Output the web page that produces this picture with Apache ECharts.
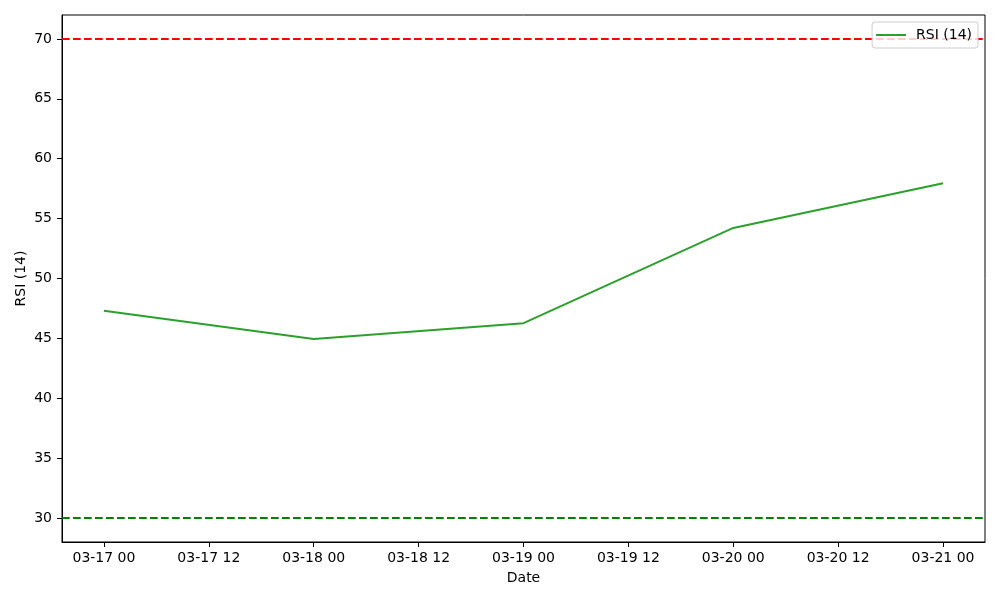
<!DOCTYPE html>
<html>
<head>
<meta charset="utf-8">
<script src="https://cdn.jsdelivr.net/npm/echarts@6/dist/echarts.min.js"></script>
<style>
  html, body { margin: 0; padding: 0; background: #fff; }
  #chart { width: 1000px; height: 600px; }
</style>
</head>
<body>
<div id="chart"></div>
<script>
// daily RSI readings (March)
const dates = ['03-17', '03-18', '03-19', '03-20', '03-21']
const rsiValues = [47.3, 44.95, 46.27, 54.22, 57.95]
const overbought = 70
const oversold = 30
const yTicks = [30, 35, 40, 45, 50, 55, 60, 65, 70]
const xTickLabels = ['03-17 00', '03-17 12', '03-18 00', '03-18 12', '03-19 00', '03-19 12', '03-20 00', '03-20 12', '03-21 00']

// x axis runs in hours from the first date
const HOUR = 3600 * 1000
const year = 2024
function toTime(md) {
  const [m, d] = md.split('-').map(Number)
  return Date.UTC(year, m - 1, d)
}
const t0 = toTime(dates[0])
const toHours = (md) => (toTime(md) - t0) / HOUR
const spanH = toHours(dates[dates.length - 1])
const xTicks = xTickLabels.map((_, i) => i * 12)
const labelOf = (v) => {
  const i = xTicks.indexOf(Math.round(v))
  return i >= 0 ? xTickLabels[i] : ''
}

const font = 'DejaVu Sans'
const fs = 14
const chart = echarts.init(document.getElementById('chart'), null, { renderer: 'canvas' })

const option = {
  animation: false,
  backgroundColor: '#fff',
  textStyle: { fontFamily: font },
  grid: {
    left: 62,
    right: 15,
    top: 15,
    bottom: 58,
    show: true,
    borderColor: '#000',
    borderWidth: 1,
    backgroundColor: 'transparent',
  },
  legend: {
    data: ['RSI (14)'],
    right: 22,
    top: 22,
    z: 10,
    padding: [6, 6, 6, 4],
    icon: 'rect',
    itemWidth: 30,
    itemHeight: 2,
    itemGap: 10,
    backgroundColor: 'rgba(255,255,255,0.8)',
    borderColor: '#cccccc',
    borderWidth: 1,
    borderRadius: 3,
    textStyle: { fontFamily: font, fontSize: fs, color: '#000', padding: [0, 0, 0, 5] },
  },
  xAxis: {
    type: 'value',
    min: -0.05 * spanH,
    max: spanH * 1.05,
    name: 'Date',
    nameLocation: 'middle',
    nameGap: 29,
    nameMoveOverlap: false,
    nameTextStyle: { fontFamily: font, fontSize: fs, color: '#000' },
    splitLine: { show: false },
    axisLine: { show: true, onZero: false, lineStyle: { color: '#000', width: 1 } },
    axisTick: {
      show: true,
      inside: false,
      length: 5,
      customValues: xTicks,
      lineStyle: { color: '#000', width: 1 },
    },
    axisLabel: {
      customValues: xTicks,
      formatter: labelOf,
      color: '#000',
      fontFamily: font,
      fontSize: fs,
      margin: 9,
      hideOverlap: false,
    },
  },
  yAxis: {
    type: 'value',
    min: 28,
    max: 72,
    name: 'RSI (14)',
    nameLocation: 'middle',
    nameGap: 34,
    nameMoveOverlap: false,
    nameTextStyle: { fontFamily: font, fontSize: fs, color: '#000' },
    splitLine: { show: false },
    axisLine: { show: true, onZero: false, lineStyle: { color: '#000', width: 1 } },
    axisTick: {
      show: true,
      inside: false,
      length: 5,
      customValues: yTicks,
      lineStyle: { color: '#000', width: 1 },
    },
    axisLabel: {
      customValues: yTicks,
      color: '#000',
      fontFamily: font,
      fontSize: fs,
      margin: 10,
    },
  },
  series: [
    {
      name: 'RSI (14)',
      type: 'line',
      data: dates.map((d, i) => [toHours(d), rsiValues[i]]),
      showSymbol: false,
      symbol: 'none',
      color: '#2ca02c',
      lineStyle: { color: '#2ca02c', width: 2 },
      markLine: {
        silent: true,
        symbol: 'none',
        label: { show: false },
        data: [
          { yAxis: overbought, lineStyle: { color: '#ff0000', type: [7.7, 3.3], width: 2 } },
          { yAxis: oversold, lineStyle: { color: '#008000', type: [7.7, 3.3], width: 2 } },
        ],
      },
    },
  ],
}

chart.setOption(option)
</script>
</body>
</html>
